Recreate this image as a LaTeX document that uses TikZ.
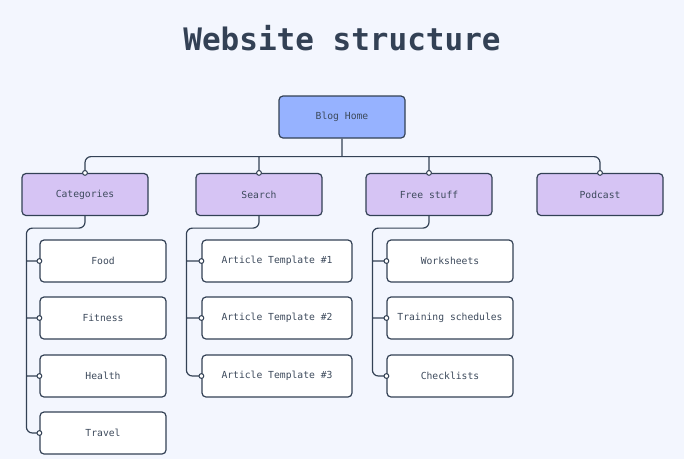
\documentclass[tikz,border=0pt]{standalone}
\usepackage{fontspec}
\setmonofont{DejaVu Sans Mono}
\usetikzlibrary{calc}
\definecolor{bg}{HTML}{F3F6FE}
\definecolor{ink}{HTML}{334155}
\definecolor{txt}{HTML}{3D4A5C}
\definecolor{rootfill}{HTML}{96B2FF}
\definecolor{catfill}{HTML}{D6C4F4}
\tikzset{
  box/.style={draw=ink, line width=1.2pt, rounded corners=4pt, minimum height=42pt,
    font=\ttfamily\fontsize{9.7}{11}\selectfont, text=txt, inner sep=0pt},
  rootbox/.style={box, fill=rootfill, minimum width=126pt},
  catbox/.style={box, fill=catfill, minimum width=126pt},
  leafbox/.style={box, fill=white, minimum width=126pt},
  wideleaf/.style={box, fill=white, minimum width=150pt},
  conn/.style={draw=ink, line width=1.2pt, rounded corners=6pt},
  dot/.style={draw=ink, fill=white, line width=1pt}
}
\begin{document}
\begin{tikzpicture}[x=1pt,y=-1pt]
\useasboundingbox[fill=bg] (0,0) rectangle (684,459);

\node[font=\ttfamily\bfseries\fontsize{31}{36}\selectfont, text=ink] (title) at (342,38) {Website structure};

\node[rootbox] (home) at (342,117) {Blog Home};

\node[catbox] (cat) at (85,194.5) {Categories};
\node[catbox] (search) at (259,194.5) {Search};
\node[catbox] (free) at (429,194.5) {Free stuff};
\node[catbox] (pod) at (600,194.5) {Podcast};

\node[leafbox] (food) at (103,261) {Food};
\node[leafbox] (fit) at (103,318) {Fitness};
\node[leafbox] (health) at (103,376) {Health};
\node[leafbox] (travel) at (103,433) {Travel};

\node[wideleaf] (a1) at (277,261) {Article Template \#1};
\node[wideleaf] (a2) at (277,318) {Article Template \#2};
\node[wideleaf] (a3) at (277,376) {Article Template \#3};

\node[leafbox] (w) at (450,261) {Worksheets};
\node[leafbox] (ts) at (450,318) {Training schedules};
\node[leafbox] (cl) at (450,376) {Checklists};

% top bus
\coordinate (bus) at ($(home.south)+(0,18)$);
\draw[conn] (home.south) -- (bus)
  (cat.north) -- (cat.north |- bus) -- (pod.north |- bus) -- (pod.north)
  (search.north |- bus) -- (search.north)
  (free.north |- bus) -- (free.north);
\foreach \n in {cat,search,free,pod} \draw[dot] (\n.north) circle (2.4pt);

% categories trunk
\coordinate (ct) at ($(food.west)+(-13,0)$);
\draw[conn] (cat.south) -- ++(0,12) -| (ct) |- (travel.west)
  (fit.west -| ct) -- (fit.west)
  (health.west -| ct) -- (health.west)
  (food.west -| ct) -- (food.west);
\foreach \n in {food,fit,health,travel} \draw[dot] (\n.west) circle (2.4pt);

% search trunk
\coordinate (st) at ($(a1.west)+(-15,0)$);
\draw[conn] (search.south) -- ++(0,12) -| (st) |- (a3.west)
  (a1.west -| st) -- (a1.west)
  (a2.west -| st) -- (a2.west);
\foreach \n in {a1,a2,a3} \draw[dot] (\n.west) circle (2.4pt);

% free stuff trunk
\coordinate (ft) at ($(w.west)+(-14,0)$);
\draw[conn] (free.south) -- ++(0,12) -| (ft) |- (cl.west)
  (w.west -| ft) -- (w.west)
  (ts.west -| ft) -- (ts.west);
\foreach \n in {w,ts,cl} \draw[dot] (\n.west) circle (2.4pt);
\end{tikzpicture}
\end{document}
